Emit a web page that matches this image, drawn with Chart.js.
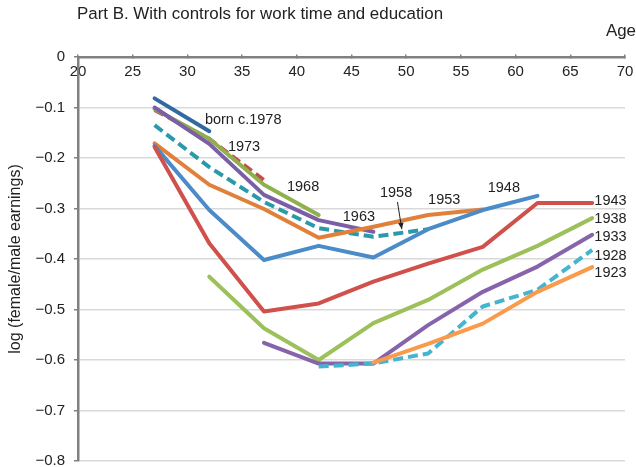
<!DOCTYPE html>
<html>
<head>
<meta charset="utf-8">
<script src="https://cdn.jsdelivr.net/npm/chart.js@4"></script>
<style>
html,body{margin:0;padding:0;background:#fff;}
#wrap{position:relative;width:636px;height:467px;}
</style>
</head>
<body>
<div id="wrap"><canvas id="c" width="636" height="467"></canvas></div>
<script>
// ---- data ----
const ages = [27, 32, 37, 42, 47, 52, 57, 62, 67];
const cohorts = ['1923','1928','1933','1938','1943','1948','1953','1958','1963','1968','1973','born c.1978'];
const c1923 = [null, null, null, null, -0.605, -0.568, -0.528, -0.465, -0.416];
const c1928 = [null, null, null, -0.613, -0.607, -0.587, -0.494, -0.461, -0.382];
const c1933 = [null, null, -0.566, -0.607, -0.607, -0.531, -0.465, -0.415, -0.352];
const c1938 = [null, -0.435, -0.537, -0.600, -0.527, -0.481, -0.421, -0.374, -0.319];
const c1943 = [-0.178, -0.369, -0.504, -0.488, -0.445, -0.409, -0.376, -0.289, -0.289];
const c1948 = [-0.176, -0.303, -0.402, -0.374, -0.397, -0.341, -0.303, -0.275, null];
const c1953 = [-0.171, -0.253, -0.301, -0.358, -0.336, -0.313, -0.302, null, null];
const c1958 = [-0.135, -0.218, -0.287, -0.339, -0.356, -0.341, null, null, null];
const c1963 = [-0.100, -0.172, -0.273, -0.323, -0.346, null, null, null, null];
const c1968 = [-0.103, -0.162, -0.253, -0.313, null, null, null, null, null];
const c1973 = [-0.105, -0.162, -0.244, null, null, null, null, null, null];
const c1978 = [-0.082, -0.147, null, null, null, null, null, null, null];
const seriesValues = [c1923, c1928, c1933, c1938, c1943, c1948, c1953, c1958, c1963, c1968, c1973, c1978];

const xTickMin = 20, xTickMax = 70, xTickStep = 5;
const yTickMin = -0.8, yTickMax = 0, yTickStep = 0.1;

// label anchors in data units (age, value)
const labelAge   = [67.2, 67.2, 67.2, 67.2, 67.2, 57.45, 52.0, 47.6, 44.2, 39.1, 33.7, 31.6];
const labelValue = [-0.428, -0.394, -0.356, -0.321, -0.285, -0.259, -0.283, -0.269, -0.317, -0.257, -0.178, -0.125];
const arrowFrom = [49.2, -0.287];
const arrowTo   = [49.6, -0.341];

// ---- styles ----
const colors = ['#f99a4c','#45b4d0','#8763ab','#9cc05a','#d0504b','#4a8bc8','#e0803b','#2a9aaa','#7b5fa6','#8fb04c','#c0504d','#2f6aa1'];
const dashed = [false, true, false, false, false, false, false, true, false, false, true, false];
const FONT = '"Liberation Sans", Arial, Helvetica, sans-serif';
const TXT = '#222';

const datasets = seriesValues.map((vals, i) => ({
  label: cohorts[i],
  data: ages.map((a, j) => ({x: a, y: vals[j]})),
  borderColor: colors[i],
  backgroundColor: colors[i],
  borderWidth: 4,
  borderDash: dashed[i] ? [10, 5] : [],
  borderCapStyle: dashed[i] ? 'butt' : 'round',
  borderJoinStyle: 'round',
  pointRadius: 0,
  pointHoverRadius: 0,
  tension: 0,
  spanGaps: false,
  fill: false
}));

const annotate = {
  id: 'annotate',
  afterDatasetsDraw(chart) {
    const ctx = chart.ctx, xs = chart.scales.x, ys = chart.scales.y;
    ctx.save();
    ctx.fillStyle = TXT;
    ctx.textBaseline = 'middle';
    ctx.textAlign = 'left';
    ctx.font = '14.5px ' + FONT;
    cohorts.forEach((t, i) => {
      ctx.fillText(t, xs.getPixelForValue(labelAge[i]), ys.getPixelForValue(labelValue[i]));
    });
    // arrow for 1958
    const x1 = xs.getPixelForValue(arrowFrom[0]), y1 = ys.getPixelForValue(arrowFrom[1]);
    const x2 = xs.getPixelForValue(arrowTo[0]), y2 = ys.getPixelForValue(arrowTo[1]);
    ctx.strokeStyle = TXT; ctx.lineWidth = 1;
    ctx.beginPath(); ctx.moveTo(x1, y1); ctx.lineTo(x2, y2); ctx.stroke();
    const ang = Math.atan2(y2 - y1, x2 - x1), L = 7, W = 0.4;
    ctx.beginPath();
    ctx.moveTo(x2, y2);
    ctx.lineTo(x2 - L * Math.cos(ang - W), y2 - L * Math.sin(ang - W));
    ctx.lineTo(x2 - L * Math.cos(ang + W), y2 - L * Math.sin(ang + W));
    ctx.closePath(); ctx.fill();
    // title and axis name
    ctx.textBaseline = 'middle';
    ctx.font = '16.9px ' + FONT;
    ctx.fillText('Part B. With controls for work time and education', 77, 14);
    ctx.textAlign = 'right';
    ctx.fillText('Age', 636, 31);
    ctx.restore();
  }
};

new Chart(document.getElementById('c'), {
  type: 'line',
  data: { datasets },
  options: {
    responsive: false,
    animation: false,
    events: [],
    layout: { padding: { top: 57, right: 11, bottom: 6, left: 0 } },
    plugins: { legend: { display: false }, tooltip: { enabled: false }, title: { display: false } },
    scales: {
      x: {
        type: 'linear',
        min: xTickMin, max: xTickMax,
        position: { y: 0 },
        afterFit(scale) { scale.paddingLeft = 0; scale.paddingRight = 0; scale.paddingTop = 0; scale.paddingBottom = 0; },
        ticks: { stepSize: xTickStep, color: TXT, font: { family: FONT, size: 15 }, padding: 10, maxRotation: 0 },
        grid: { display: true, drawOnChartArea: false, drawTicks: true, tickLength: -4, color: '#808080', lineWidth: 1.5 },
        border: { display: true, color: '#808080', width: 2.5 }
      },
      y: {
        type: 'linear',
        min: yTickMin, max: yTickMax,
        afterFit(scale) { scale.width = 78; scale.paddingTop = 0; scale.paddingBottom = 0; },
        ticks: {
          stepSize: yTickStep, color: TXT, font: { family: FONT, size: 15 }, padding: 9,
          callback: v => { const r = Math.round(v * 10) / 10; return r === 0 ? '0' : '\u2212' + Math.abs(r).toFixed(1); }
        },
        grid: { color: ctx => ctx.tick && ctx.tick.value === 0 ? 'rgba(0,0,0,0)' : '#d9d9d9', lineWidth: 1.5, tickLength: 4, tickColor: '#808080', drawTicks: true },
        border: { display: true, color: '#808080', width: 2.5 },
        title: { display: true, text: 'log (female/male earnings)', color: TXT, font: { family: FONT, size: 16 }, padding: { top: 6, bottom: 0 } }
      }
    }
  },
  plugins: [annotate]
});
</script>
</body>
</html>
